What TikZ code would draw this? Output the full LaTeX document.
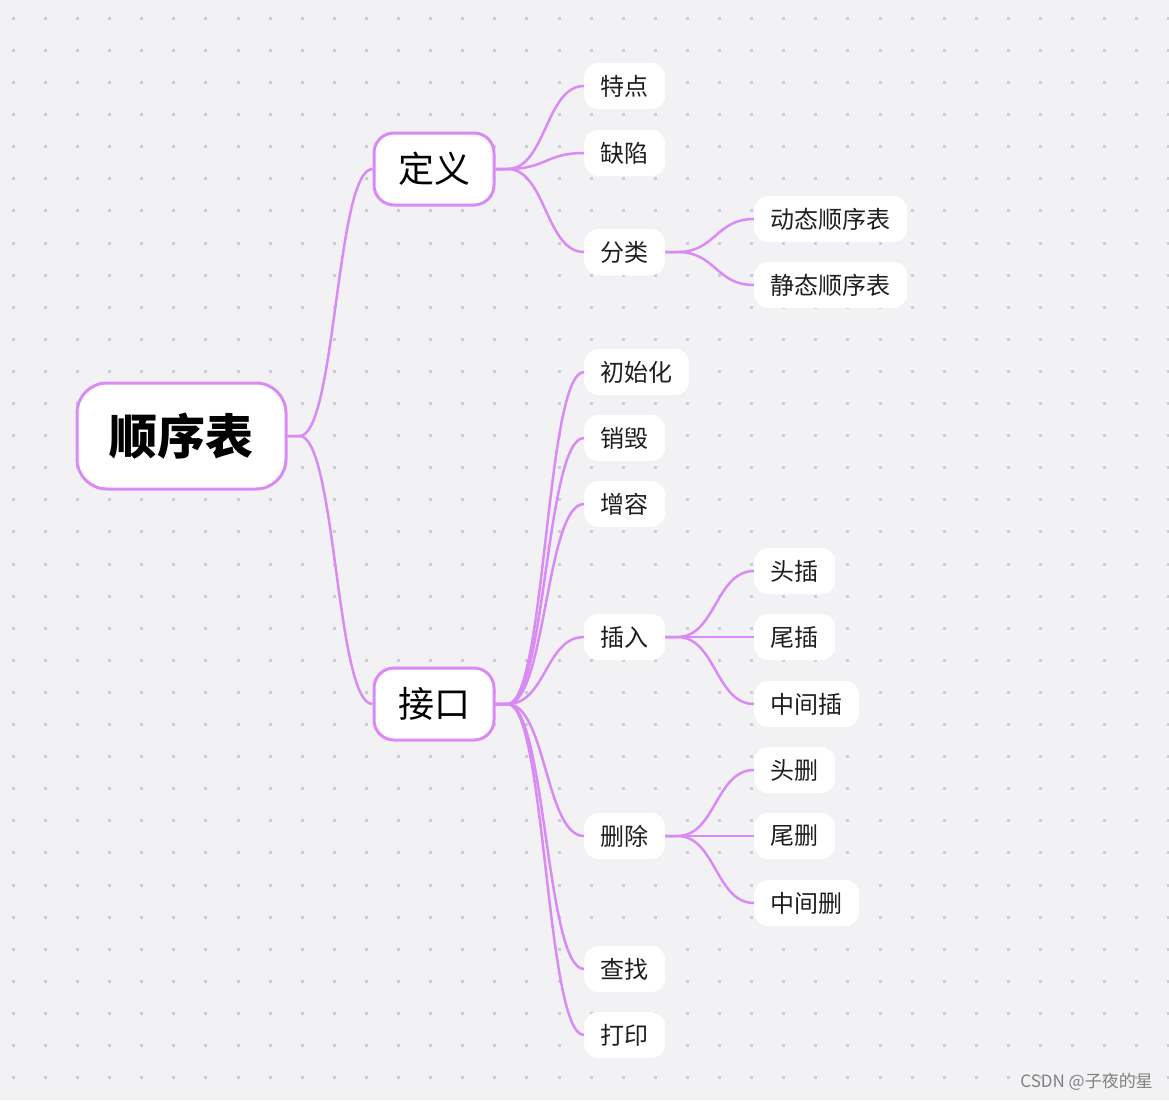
\documentclass[tikz,border=0pt]{standalone}
\usepackage{fontspec}
\newfontfamily\cjk{Noto Sans CJK SC}
\usetikzlibrary{calc}
\definecolor{bgc}{RGB}{242,242,245}
\definecolor{dotc}{RGB}{205,205,208}
\definecolor{edgec}{RGB}{218,138,244}
\definecolor{txtc}{RGB}{30,30,30}
\newcommand\mmbranch[2]{%
  \path (#1.east) ++(12,0) coordinate (tmp);
  \draw[edge] (#1.east) -- (tmp) .. controls ($(tmp)!0.5!(#2.west |- tmp)$) and ($(#2.west)!0.5!(tmp |- #2.west)$) .. (#2.west);}
\begin{document}
\begin{tikzpicture}[x=1pt,y=-1pt,
  edge/.style={draw=edgec,line width=2.5pt},
  rootbox/.style={draw=edgec,line width=3pt,fill=white,rounded corners=30pt,minimum height=106pt,inner xsep=32.5pt,inner ysep=0pt,font=\cjk\bfseries\fontsize{48}{48}\selectfont,text=black},
  lonebox/.style={draw=edgec,line width=3pt,fill=white,rounded corners=20pt,minimum height=72pt,inner xsep=24pt,inner ysep=0pt,font=\cjk\fontsize{36}{36}\selectfont,text=black},
  leafbox/.style={fill=white,rounded corners=14pt,minimum height=46pt,inner xsep=16.5pt,inner ysep=0pt,font=\cjk\fontsize{24}{24}\selectfont,text=txtc,anchor=west}
]
\fill[bgc] (0,0) rectangle (1169,1100);
\useasboundingbox (0,0) rectangle (1169,1100);
\foreach \i in {0,...,36}{
  \foreach \j in {0,...,33}{
    \fill[dotc] ({13.3+32.1*\i-1.5},{18.3+32.1*\j-1.5}) rectangle ++(3,3);
  }
}
% nodes
\node[rootbox] (root) at (181.5,436) {顺序表};
\node[lonebox] (def) at (434,169) {定义};
\node[lonebox] (api) at (434,704) {接口};
\node[leafbox] (t1) at (584,86) {特点};
\node[leafbox] (t2) at (584,153) {缺陷};
\node[leafbox] (t3) at (584,252) {分类};
\node[leafbox] (d1) at (754,219) {动态顺序表};
\node[leafbox] (d2) at (754,285) {静态顺序表};
\node[leafbox] (i1) at (584,372) {初始化};
\node[leafbox] (i2) at (584,438) {销毁};
\node[leafbox] (i3) at (584,504) {增容};
\node[leafbox] (i4) at (584,637) {插入};
\node[leafbox] (i5) at (584,836) {删除};
\node[leafbox] (i6) at (584,969) {查找};
\node[leafbox] (i7) at (584,1035) {打印};
\node[leafbox] (c1) at (754,571) {头插};
\node[leafbox] (c2) at (754,637) {尾插};
\node[leafbox] (c3) at (754,704) {中间插};
\node[leafbox] (e1) at (754,770) {头删};
\node[leafbox] (e2) at (754,836) {尾删};
\node[leafbox] (e3) at (754,903) {中间删};
\node[anchor=east,text=gray,font=\cjk\fontsize{17}{17}\selectfont,inner sep=0pt] (wm) at (1153,1082) {CSDN @子夜的星};
% edges
\begin{scope}[on background layer/.style={}]
\mmbranch{root}{def}
\mmbranch{root}{api}
\mmbranch{def}{t1}
\mmbranch{def}{t2}
\mmbranch{def}{t3}
\mmbranch{t3}{d1}
\mmbranch{t3}{d2}
\mmbranch{api}{i1}
\mmbranch{api}{i2}
\mmbranch{api}{i3}
\mmbranch{api}{i4}
\mmbranch{api}{i5}
\mmbranch{api}{i6}
\mmbranch{api}{i7}
\mmbranch{i4}{c1}
\mmbranch{i4}{c2}
\mmbranch{i4}{c3}
\mmbranch{i5}{e1}
\mmbranch{i5}{e2}
\mmbranch{i5}{e3}
\end{scope}
\end{tikzpicture}
\end{document}
